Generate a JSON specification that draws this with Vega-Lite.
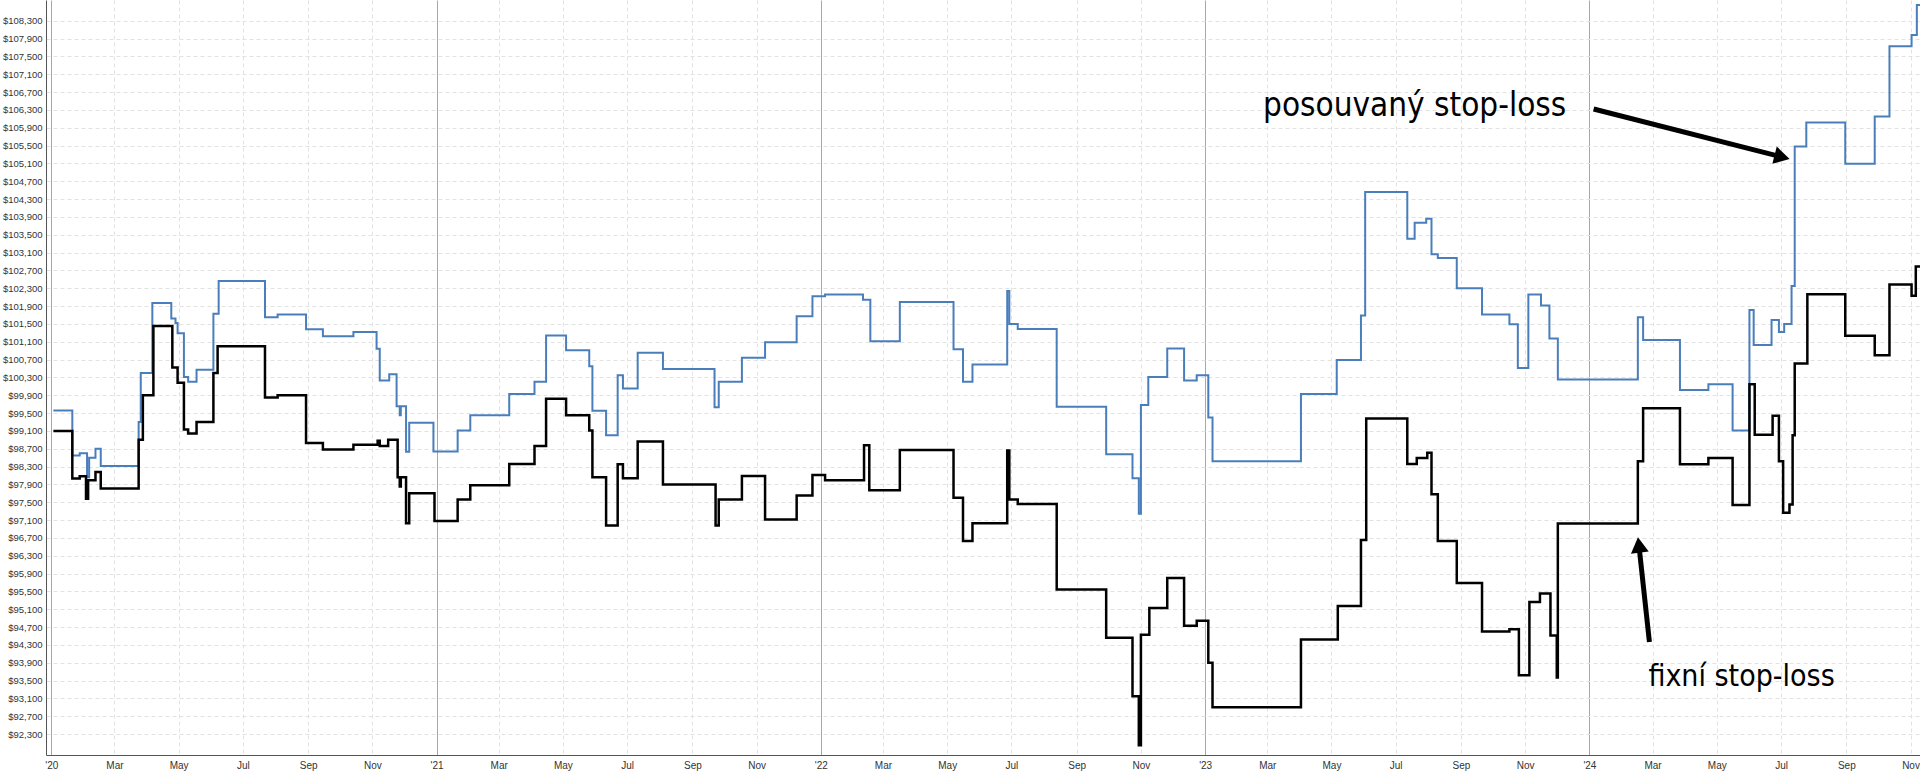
{
  "$schema": "https://vega.github.io/schema/vega-lite/v6.json",
  "width": 1874,
  "height": 755,
  "autosize": {"type": "none"},
  "padding": {"left": 46, "top": 0, "right": 0, "bottom": 25},
  "background": "white",
  "config": {"view": {"stroke": null}},
  "datasets": {
    "series": [
      {"date":"2020-01-03","value":99560,"series":"posouvaný"},
      {"date":"2020-01-21","value":98550,"series":"posouvaný"},
      {"date":"2020-01-28","value":98600,"series":"posouvaný"},
      {"date":"2020-02-04","value":98060,"series":"posouvaný"},
      {"date":"2020-02-06","value":98500,"series":"posouvaný"},
      {"date":"2020-02-12","value":98700,"series":"posouvaný"},
      {"date":"2020-02-17","value":98310,"series":"posouvaný"},
      {"date":"2020-03-24","value":99300,"series":"posouvaný"},
      {"date":"2020-03-26","value":100400,"series":"posouvaný"},
      {"date":"2020-04-06","value":101970,"series":"posouvaný"},
      {"date":"2020-04-24","value":101620,"series":"posouvaný"},
      {"date":"2020-04-28","value":101520,"series":"posouvaný"},
      {"date":"2020-04-30","value":101290,"series":"posouvaný"},
      {"date":"2020-05-06","value":100310,"series":"posouvaný"},
      {"date":"2020-05-10","value":100200,"series":"posouvaný"},
      {"date":"2020-05-18","value":100470,"series":"posouvaný"},
      {"date":"2020-06-03","value":101730,"series":"posouvaný"},
      {"date":"2020-06-08","value":102460,"series":"posouvaný"},
      {"date":"2020-07-22","value":101650,"series":"posouvaný"},
      {"date":"2020-08-03","value":101710,"series":"posouvaný"},
      {"date":"2020-08-30","value":101380,"series":"posouvaný"},
      {"date":"2020-09-15","value":101220,"series":"posouvaný"},
      {"date":"2020-10-14","value":101320,"series":"posouvaný"},
      {"date":"2020-11-05","value":100940,"series":"posouvaný"},
      {"date":"2020-11-08","value":100230,"series":"posouvaný"},
      {"date":"2020-11-17","value":100370,"series":"posouvaný"},
      {"date":"2020-11-24","value":99650,"series":"posouvaný"},
      {"date":"2020-11-27","value":99450,"series":"posouvaný"},
      {"date":"2020-11-28","value":99650,"series":"posouvaný"},
      {"date":"2020-12-03","value":98630,"series":"posouvaný"},
      {"date":"2020-12-06","value":99280,"series":"posouvaný"},
      {"date":"2020-12-29","value":98640,"series":"posouvaný"},
      {"date":"2021-01-21","value":99110,"series":"posouvaný"},
      {"date":"2021-02-02","value":99450,"series":"posouvaný"},
      {"date":"2021-03-11","value":99930,"series":"posouvaný"},
      {"date":"2021-04-04","value":100200,"series":"posouvaný"},
      {"date":"2021-04-15","value":101240,"series":"posouvaný"},
      {"date":"2021-05-04","value":100910,"series":"posouvaný"},
      {"date":"2021-05-26","value":100550,"series":"posouvaný"},
      {"date":"2021-05-29","value":99550,"series":"posouvaný"},
      {"date":"2021-06-11","value":99000,"series":"posouvaný"},
      {"date":"2021-06-22","value":100350,"series":"posouvaný"},
      {"date":"2021-06-27","value":100050,"series":"posouvaný"},
      {"date":"2021-07-11","value":100850,"series":"posouvaný"},
      {"date":"2021-08-04","value":100490,"series":"posouvaný"},
      {"date":"2021-09-22","value":99630,"series":"posouvaný"},
      {"date":"2021-09-26","value":100200,"series":"posouvaný"},
      {"date":"2021-10-18","value":100740,"series":"posouvaný"},
      {"date":"2021-11-09","value":101090,"series":"posouvaný"},
      {"date":"2021-12-09","value":101670,"series":"posouvaný"},
      {"date":"2021-12-24","value":102120,"series":"posouvaný"},
      {"date":"2022-01-05","value":102160,"series":"posouvaný"},
      {"date":"2022-02-10","value":102040,"series":"posouvaný"},
      {"date":"2022-02-17","value":101110,"series":"posouvaný"},
      {"date":"2022-03-17","value":101990,"series":"posouvaný"},
      {"date":"2022-05-07","value":100930,"series":"posouvaný"},
      {"date":"2022-05-16","value":100200,"series":"posouvaný"},
      {"date":"2022-05-25","value":100590,"series":"posouvaný"},
      {"date":"2022-06-27","value":102240,"series":"posouvaný"},
      {"date":"2022-06-29","value":101500,"series":"posouvaný"},
      {"date":"2022-07-07","value":101385,"series":"posouvaný"},
      {"date":"2022-08-13","value":99640,"series":"posouvaný"},
      {"date":"2022-09-29","value":98575,"series":"posouvaný"},
      {"date":"2022-10-24","value":98040,"series":"posouvaný"},
      {"date":"2022-10-30","value":97240,"series":"posouvaný"},
      {"date":"2022-11-01","value":99680,"series":"posouvaný"},
      {"date":"2022-11-08","value":100310,"series":"posouvaný"},
      {"date":"2022-11-26","value":100950,"series":"posouvaný"},
      {"date":"2022-12-12","value":100230,"series":"posouvaný"},
      {"date":"2022-12-24","value":100350,"series":"posouvaný"},
      {"date":"2023-01-04","value":99400,"series":"posouvaný"},
      {"date":"2023-01-08","value":98420,"series":"posouvaný"},
      {"date":"2023-04-02","value":99930,"series":"posouvaný"},
      {"date":"2023-05-06","value":100690,"series":"posouvaný"},
      {"date":"2023-05-29","value":101690,"series":"posouvaný"},
      {"date":"2023-06-02","value":104460,"series":"posouvaný"},
      {"date":"2023-07-12","value":103410,"series":"posouvaný"},
      {"date":"2023-07-19","value":103770,"series":"posouvaný"},
      {"date":"2023-07-30","value":103860,"series":"posouvaný"},
      {"date":"2023-08-04","value":103060,"series":"posouvaný"},
      {"date":"2023-08-10","value":102980,"series":"posouvaný"},
      {"date":"2023-08-28","value":102300,"series":"posouvaný"},
      {"date":"2023-09-21","value":101710,"series":"posouvaný"},
      {"date":"2023-10-17","value":101490,"series":"posouvaný"},
      {"date":"2023-10-25","value":100510,"series":"posouvaný"},
      {"date":"2023-11-04","value":102160,"series":"posouvaný"},
      {"date":"2023-11-16","value":101910,"series":"posouvaný"},
      {"date":"2023-11-24","value":101170,"series":"posouvaný"},
      {"date":"2023-12-02","value":100250,"series":"posouvaný"},
      {"date":"2024-02-16","value":101650,"series":"posouvaný"},
      {"date":"2024-02-21","value":101140,"series":"posouvaný"},
      {"date":"2024-03-27","value":100015,"series":"posouvaný"},
      {"date":"2024-04-23","value":100145,"series":"posouvaný"},
      {"date":"2024-05-16","value":99110,"series":"posouvaný"},
      {"date":"2024-06-01","value":101810,"series":"posouvaný"},
      {"date":"2024-06-05","value":101025,"series":"posouvaný"},
      {"date":"2024-06-22","value":101590,"series":"posouvaný"},
      {"date":"2024-06-29","value":101320,"series":"posouvaný"},
      {"date":"2024-07-04","value":101500,"series":"posouvaný"},
      {"date":"2024-07-11","value":102350,"series":"posouvaný"},
      {"date":"2024-07-14","value":105480,"series":"posouvaný"},
      {"date":"2024-07-25","value":106020,"series":"posouvaný"},
      {"date":"2024-08-31","value":105090,"series":"posouvaný"},
      {"date":"2024-09-28","value":106150,"series":"posouvaný"},
      {"date":"2024-10-12","value":107730,"series":"posouvaný"},
      {"date":"2024-11-02","value":107980,"series":"posouvaný"},
      {"date":"2024-11-07","value":108655,"series":"posouvaný"},
      {"date":"2024-11-10","value":108655,"series":"posouvaný"},

      {"date":"2020-01-03","value":99100,"series":"fixní"},
      {"date":"2020-01-21","value":98030,"series":"fixní"},
      {"date":"2020-01-28","value":98080,"series":"fixní"},
      {"date":"2020-02-03","value":97580,"series":"fixní"},
      {"date":"2020-02-05","value":97990,"series":"fixní"},
      {"date":"2020-02-12","value":98180,"series":"fixní"},
      {"date":"2020-02-17","value":97810,"series":"fixní"},
      {"date":"2020-03-24","value":98900,"series":"fixní"},
      {"date":"2020-03-28","value":99900,"series":"fixní"},
      {"date":"2020-04-07","value":101450,"series":"fixní"},
      {"date":"2020-04-25","value":100520,"series":"fixní"},
      {"date":"2020-04-30","value":100180,"series":"fixní"},
      {"date":"2020-05-06","value":99130,"series":"fixní"},
      {"date":"2020-05-10","value":99040,"series":"fixní"},
      {"date":"2020-05-18","value":99300,"series":"fixní"},
      {"date":"2020-06-03","value":100400,"series":"fixní"},
      {"date":"2020-06-07","value":101000,"series":"fixní"},
      {"date":"2020-07-22","value":99850,"series":"fixní"},
      {"date":"2020-08-03","value":99900,"series":"fixní"},
      {"date":"2020-08-30","value":98830,"series":"fixní"},
      {"date":"2020-09-15","value":98680,"series":"fixní"},
      {"date":"2020-10-14","value":98790,"series":"fixní"},
      {"date":"2020-11-06","value":98880,"series":"fixní"},
      {"date":"2020-11-08","value":98760,"series":"fixní"},
      {"date":"2020-11-16","value":98900,"series":"fixní"},
      {"date":"2020-11-25","value":98060,"series":"fixní"},
      {"date":"2020-11-27","value":97850,"series":"fixní"},
      {"date":"2020-11-28","value":98060,"series":"fixní"},
      {"date":"2020-12-03","value":97030,"series":"fixní"},
      {"date":"2020-12-06","value":97700,"series":"fixní"},
      {"date":"2020-12-30","value":97080,"series":"fixní"},
      {"date":"2021-01-21","value":97560,"series":"fixní"},
      {"date":"2021-02-02","value":97880,"series":"fixní"},
      {"date":"2021-03-11","value":98360,"series":"fixní"},
      {"date":"2021-04-04","value":98760,"series":"fixní"},
      {"date":"2021-04-15","value":99820,"series":"fixní"},
      {"date":"2021-05-04","value":99450,"series":"fixní"},
      {"date":"2021-05-26","value":99110,"series":"fixní"},
      {"date":"2021-05-29","value":98060,"series":"fixní"},
      {"date":"2021-06-11","value":96980,"series":"fixní"},
      {"date":"2021-06-22","value":98350,"series":"fixní"},
      {"date":"2021-06-27","value":98040,"series":"fixní"},
      {"date":"2021-07-11","value":98860,"series":"fixní"},
      {"date":"2021-08-04","value":97900,"series":"fixní"},
      {"date":"2021-09-23","value":96980,"series":"fixní"},
      {"date":"2021-09-26","value":97560,"series":"fixní"},
      {"date":"2021-10-18","value":98090,"series":"fixní"},
      {"date":"2021-11-09","value":97110,"series":"fixní"},
      {"date":"2021-12-09","value":97650,"series":"fixní"},
      {"date":"2021-12-24","value":98110,"series":"fixní"},
      {"date":"2022-01-05","value":97990,"series":"fixní"},
      {"date":"2022-02-11","value":98780,"series":"fixní"},
      {"date":"2022-02-16","value":97770,"series":"fixní"},
      {"date":"2022-03-17","value":98670,"series":"fixní"},
      {"date":"2022-05-07","value":97600,"series":"fixní"},
      {"date":"2022-05-16","value":96630,"series":"fixní"},
      {"date":"2022-05-25","value":97030,"series":"fixní"},
      {"date":"2022-06-27","value":98660,"series":"fixní"},
      {"date":"2022-06-29","value":97560,"series":"fixní"},
      {"date":"2022-07-07","value":97460,"series":"fixní"},
      {"date":"2022-08-13","value":95540,"series":"fixní"},
      {"date":"2022-09-29","value":94460,"series":"fixní"},
      {"date":"2022-10-24","value":93150,"series":"fixní"},
      {"date":"2022-10-30","value":92050,"series":"fixní"},
      {"date":"2022-11-01","value":94530,"series":"fixní"},
      {"date":"2022-11-09","value":95130,"series":"fixní"},
      {"date":"2022-11-26","value":95800,"series":"fixní"},
      {"date":"2022-12-12","value":94730,"series":"fixní"},
      {"date":"2022-12-24","value":94840,"series":"fixní"},
      {"date":"2023-01-04","value":93900,"series":"fixní"},
      {"date":"2023-01-08","value":92900,"series":"fixní"},
      {"date":"2023-04-02","value":94420,"series":"fixní"},
      {"date":"2023-05-07","value":95170,"series":"fixní"},
      {"date":"2023-05-29","value":96650,"series":"fixní"},
      {"date":"2023-06-03","value":99380,"series":"fixní"},
      {"date":"2023-07-12","value":98360,"series":"fixní"},
      {"date":"2023-07-21","value":98490,"series":"fixní"},
      {"date":"2023-07-31","value":98610,"series":"fixní"},
      {"date":"2023-08-04","value":97680,"series":"fixní"},
      {"date":"2023-08-10","value":96630,"series":"fixní"},
      {"date":"2023-08-28","value":95690,"series":"fixní"},
      {"date":"2023-09-21","value":94600,"series":"fixní"},
      {"date":"2023-10-17","value":94650,"series":"fixní"},
      {"date":"2023-10-26","value":93620,"series":"fixní"},
      {"date":"2023-11-05","value":95260,"series":"fixní"},
      {"date":"2023-11-15","value":95450,"series":"fixní"},
      {"date":"2023-11-25","value":94510,"series":"fixní"},
      {"date":"2023-12-01","value":93570,"series":"fixní"},
      {"date":"2023-12-02","value":97020,"series":"fixní"},
      {"date":"2024-02-16","value":98420,"series":"fixní"},
      {"date":"2024-02-21","value":99610,"series":"fixní"},
      {"date":"2024-03-27","value":98352,"series":"fixní"},
      {"date":"2024-04-23","value":98493,"series":"fixní"},
      {"date":"2024-05-16","value":97438,"series":"fixní"},
      {"date":"2024-06-01","value":100145,"series":"fixní"},
      {"date":"2024-06-06","value":99014,"series":"fixní"},
      {"date":"2024-06-23","value":99438,"series":"fixní"},
      {"date":"2024-06-29","value":98417,"series":"fixní"},
      {"date":"2024-07-03","value":97265,"series":"fixní"},
      {"date":"2024-07-09","value":97450,"series":"fixní"},
      {"date":"2024-07-12","value":99000,"series":"fixní"},
      {"date":"2024-07-14","value":100612,"series":"fixní"},
      {"date":"2024-07-26","value":102167,"series":"fixní"},
      {"date":"2024-08-31","value":101232,"series":"fixní"},
      {"date":"2024-09-28","value":100797,"series":"fixní"},
      {"date":"2024-10-12","value":102384,"series":"fixní"},
      {"date":"2024-11-02","value":102134,"series":"fixní"},
      {"date":"2024-11-06","value":102786,"series":"fixní"},
      {"date":"2024-11-10","value":102786,"series":"fixní"}
    ],
    "arrows": [
      {"arrow":"posouvaný","date":"2024-01-05","value":106320,"date2":"2024-07-02","value2":105243},
      {"arrow":"fixní","date":"2024-02-27","value":94364,"date2":"2024-02-17","value2":96540}
    ],
    "labels": [
      {"label":"posouvaný stop-loss","date":"2023-02-25","value":106160},
      {"label":"fixní stop-loss","date":"2024-02-26","value":93380}
    ]
  },
  "encoding": {
    "x": {
      "field": "date",
      "type": "temporal",
      "scale": {
        "type": "utc",
        "domain": [
          {"year": 2019, "month": 12, "date": 27, "utc": true},
          {"year": 2024, "month": 11, "date": 10, "utc": true}
        ],
        "nice": false
      },
      "axis": {
        "title": null,
        "tickCount": {"interval": "month", "step": 2},
        "labelExpr": "utcmonth(datum.value) == 0 ? \"'\" + utcFormat(datum.value, '%y') : utcFormat(datum.value, '%b')",
        "labelFont": "Liberation Sans",
        "labelFontSize": 10,
        "labelColor": "#333333",
        "ticks": false,
        "labelPadding": 5,
        "labelFlush": false,
        "labelOverlap": false,
        "labelBound": false,
        "domainColor": "#555555",
        "grid": true,
        "gridColor": {"condition": {"test": "utcmonth(datum.value) == 0", "value": "#a8a8a8"}, "value": "#e2e2e2"},
        "gridDash": {"condition": {"test": "utcmonth(datum.value) == 0", "value": []}, "value": [4, 3]}
      }
    },
    "y": {
      "field": "value",
      "type": "quantitative",
      "scale": {"domain": [91830, 108765], "nice": false, "zero": false},
      "axis": {
        "title": null,
        "values": [92300, 92700, 93100, 93500, 93900, 94300, 94700, 95100, 95500, 95900, 96300, 96700, 97100, 97500, 97900, 98300, 98700, 99100, 99500, 99900, 100300, 100700, 101100, 101500, 101900, 102300, 102700, 103100, 103500, 103900, 104300, 104700, 105100, 105500, 105900, 106300, 106700, 107100, 107500, 107900, 108300],
        "format": "$,.0f",
        "labelFont": "Liberation Sans",
        "labelFontSize": 9.5,
        "labelColor": "#333333",
        "ticks": false,
        "labelPadding": 4,
        "labelBound": false,
        "domainColor": "#555555",
        "grid": true,
        "gridColor": "#e2e2e2",
        "gridDash": [4, 3]
      }
    }
  },
  "layer": [
    {
      "data": {"name": "series"},
      "transform": [{"filter": "datum.series == 'posouvaný'"}],
      "mark": {"type": "line", "interpolate": "step-after", "color": "#4a7ebb", "strokeWidth": 2}
    },
    {
      "data": {"name": "series"},
      "transform": [{"filter": "datum.series == 'fixní'"}],
      "mark": {"type": "line", "interpolate": "step-after", "color": "#000000", "strokeWidth": 2.5}
    },
    {
      "data": {"name": "arrows"},
      "mark": {"type": "rule", "color": "#000000", "strokeWidth": 5},
      "encoding": {"x2": {"field": "date2"}, "y2": {"field": "value2"}}
    },
    {
      "data": {"name": "arrows"},
      "transform": [{"filter": "datum.arrow == 'posouvaný'"}],
      "mark": {"type": "point", "shape": "triangle-up", "filled": true, "color": "#000000", "opacity": 1, "size": 320, "angle": 104},
      "encoding": {"x": {"field": "date2", "type": "temporal"}, "y": {"field": "value2", "type": "quantitative"}}
    },
    {
      "data": {"name": "arrows"},
      "transform": [{"filter": "datum.arrow == 'fixní'"}],
      "mark": {"type": "point", "shape": "triangle-up", "filled": true, "color": "#000000", "opacity": 1, "size": 320, "angle": 353},
      "encoding": {"x": {"field": "date2", "type": "temporal"}, "y": {"field": "value2", "type": "quantitative"}}
    },
    {
      "data": {"name": "labels"},
      "transform": [{"filter": "datum.label == 'posouvaný stop-loss'"}],
      "mark": {"type": "text", "align": "left", "baseline": "alphabetic", "font": "DejaVu Sans Condensed", "fontSize": 33, "color": "#000000"},
      "encoding": {"text": {"field": "label"}}
    },
    {
      "data": {"name": "labels"},
      "transform": [{"filter": "datum.label == 'fixní stop-loss'"}],
      "mark": {"type": "text", "align": "left", "baseline": "alphabetic", "font": "DejaVu Sans Condensed", "fontSize": 30, "color": "#000000"},
      "encoding": {"text": {"field": "label"}}
    }
  ]
}
